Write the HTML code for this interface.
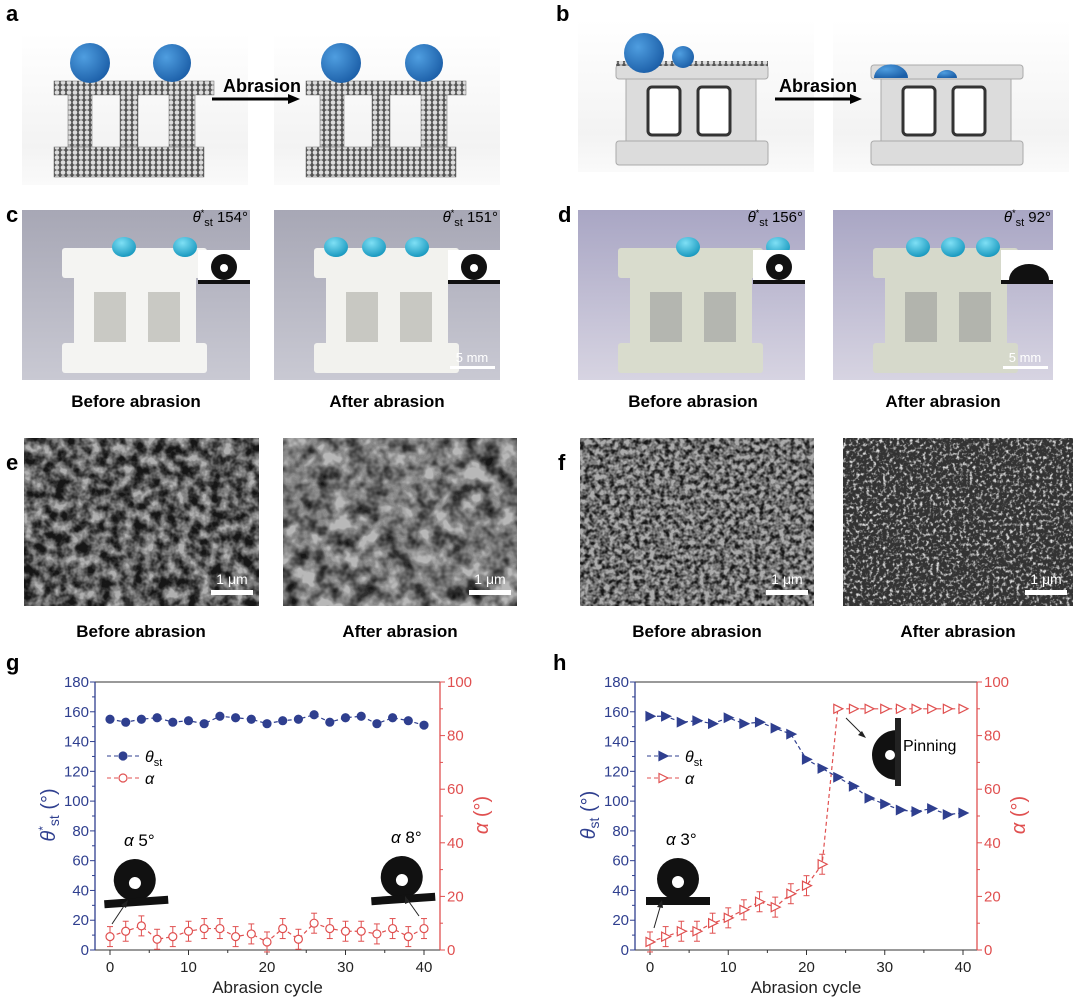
<!DOCTYPE html>
<html><head><meta charset="utf-8"><style>
html,body{margin:0;padding:0;background:#fff}
svg{display:block}
text{font-family:"Liberation Sans",sans-serif}
</style></head><body>
<svg id="s" width="1080" height="999" viewBox="0 0 1080 999" xmlns="http://www.w3.org/2000/svg">
<defs>
<linearGradient id="floor" x1="0" y1="0" x2="0" y2="1"><stop offset="0" stop-color="#fff"/><stop offset="0.75" stop-color="#f3f3f3"/><stop offset="1" stop-color="#fafafa"/></linearGradient>
<radialGradient id="ball" cx="0.35" cy="0.35" r="0.7"><stop offset="0" stop-color="#4f9ee0"/><stop offset="1" stop-color="#1c5fa8"/></radialGradient>
<radialGradient id="drop" cx="0.4" cy="0.3" r="0.8"><stop offset="0" stop-color="#7fe0f5"/><stop offset="1" stop-color="#0b8fb8"/></radialGradient>
<linearGradient id="photoC" x1="0" y1="0" x2="0" y2="1"><stop offset="0" stop-color="#a7a7b5"/><stop offset="1" stop-color="#c9c9d3"/></linearGradient>
<linearGradient id="photoD" x1="0" y1="0" x2="0" y2="1"><stop offset="0" stop-color="#a9a6c4"/><stop offset="1" stop-color="#d7d4e2"/></linearGradient>
<pattern id="dots" width="6" height="5" patternUnits="userSpaceOnUse"><rect width="6" height="5" fill="#555"/><circle cx="3" cy="2.5" r="2.3" fill="#ddd"/></pattern>
<filter id="sem1" x="0" y="0" width="1" height="1"><feTurbulence type="fractalNoise" baseFrequency="0.09" numOctaves="3" seed="3"/><feColorMatrix type="matrix" values="0 0 0 0 0  0 0 0 0 0  0 0 0 0 0  2.2 0 0 0 -0.55"/><feComposite in="SourceGraphic" operator="in"/></filter>
<filter id="sem2" x="0" y="0" width="1" height="1"><feTurbulence type="fractalNoise" baseFrequency="0.06" numOctaves="3" seed="7"/><feColorMatrix type="matrix" values="0 0 0 0 0  0 0 0 0 0  0 0 0 0 0  2.0 0 0 0 -0.6"/><feComposite in="SourceGraphic" operator="in"/></filter>
<filter id="sem3" x="0" y="0" width="1" height="1"><feTurbulence type="fractalNoise" baseFrequency="0.2" numOctaves="2" seed="5"/><feColorMatrix type="matrix" values="0 0 0 0 0  0 0 0 0 0  0 0 0 0 0  2.4 0 0 0 -0.8"/><feComposite in="SourceGraphic" operator="in"/></filter>
<filter id="sem4" x="0" y="0" width="1" height="1"><feTurbulence type="fractalNoise" baseFrequency="0.3" numOctaves="2" seed="9"/><feColorMatrix type="matrix" values="0 0 0 0 1  0 0 0 0 1  0 0 0 0 1  3.5 0 0 0 -1.75"/><feComposite in="SourceGraphic" operator="in"/></filter>
</defs>
<g id="root"></g>
</svg>
<script>
const root=document.getElementById("root");
let h="";
function T(x,y,s,opt){opt=opt||{};h+=`<text x="${x}" y="${y}" font-size="${opt.fs||16}" font-weight="${opt.b?'bold':'normal'}" fill="${opt.c||'#000'}" text-anchor="${opt.a||'start'}" ${opt.st?'font-style="italic"':''}>${s}</text>`;}
[["a",6,21],["b",556,21],["c",6,222],["d",558,222],["e",6,470],["f",558,470],["g",6,670],["h",553,670]].forEach(p=>T(p[1],p[2],p[0],{fs:22,b:1}));
function blockA(x0,y0,balls){
 h+=`<rect x="${x0}" y="${y0}" width="226" height="152" fill="url(#floor)"/>`;
 const bx=x0+32,by=y0+48;
 h+=`<g fill="url(#dots)" stroke="#666" stroke-width="0.5">
 <rect x="${bx}" y="${by}" width="160" height="14"/>
 <rect x="${bx+14}" y="${by+14}" width="24" height="52"/>
 <rect x="${bx+66}" y="${by+14}" width="18" height="52"/>
 <rect x="${bx+115}" y="${by+14}" width="26" height="52"/>
 <rect x="${bx}" y="${by+66}" width="150" height="30"/></g>`;
 balls.forEach(b=>h+=`<circle cx="${x0+b[0]}" cy="${y0+b[1]}" r="${b[2]}" fill="url(#ball)"/>`);
}
blockA(22,33,[[68,30,20],[150,30,19]]);
blockA(274,33,[[67,30,20],[150,30,19]]);
function arrow(x1,x2,y){h+=`<line x1="${x1}" y1="${y}" x2="${x2-8}" y2="${y}" stroke="#000" stroke-width="3"/><polygon points="${x2},${y} ${x2-12},${y-5} ${x2-12},${y+5}" fill="#000"/>`;}
T(262,92,"Abrasion",{fs:18,b:1,a:"middle"});arrow(212,300,99);
function blockB(x0,y0,balls,rough){
 h+=`<rect x="${x0}" y="${y0}" width="236" height="152" fill="url(#floor)"/>`;
 const bx=x0+38,by=y0+45;
 h+=`<g fill="#dcdcdc" stroke="#aaa" stroke-width="1">
 <rect x="${bx}" y="${by}" width="152" height="14" rx="3"/>
 <rect x="${bx+10}" y="${by+14}" width="130" height="62"/>
 <rect x="${bx}" y="${by+76}" width="152" height="24" rx="3"/></g>
 <rect x="${bx+32}" y="${by+22}" width="32" height="48" rx="4" fill="#fff" stroke="#333" stroke-width="3"/>
 <rect x="${bx+82}" y="${by+22}" width="32" height="48" rx="4" fill="#fff" stroke="#333" stroke-width="3"/>`;
 if(rough)h+=`<rect x="${bx}" y="${by-4}" width="152" height="5" fill="url(#dots)"/>`;
 balls.forEach(b=>h+=b[3]?`<path d="M${x0+b[0]-b[2]},${y0+b[1]} a${b[2]},${b[2]*0.8} 0 0 1 ${2*b[2]},0 z" fill="url(#ball)"/>`:`<circle cx="${x0+b[0]}" cy="${y0+b[1]}" r="${b[2]}" fill="url(#ball)"/>`);
}
blockB(578,20,[[66,33,20],[105,37,11]],1);
blockB(833,20,[[58,58,17,1],[114,58,10,1]],0);
T(818,92,"Abrasion",{fs:18,b:1,a:"middle"});arrow(775,862,99);
function photo(x,y,w,ht,grad,col,win,drops,ang,flat,scale){
 h+=`<rect x="${x}" y="${y}" width="${w}" height="${ht}" fill="url(#${grad})"/>`;
 const bx=x+40,by=y+38;
 h+=`<g fill="${col}"><rect x="${bx}" y="${by}" width="145" height="30" rx="3"/><rect x="${bx+12}" y="${by+30}" width="122" height="80"/><rect x="${bx}" y="${by+95}" width="145" height="30" rx="3"/></g>
 <rect x="${bx+32}" y="${by+44}" width="32" height="50" fill="${win}"/><rect x="${bx+86}" y="${by+44}" width="32" height="50" fill="${win}"/>`;
 drops.forEach(d=>h+=`<ellipse cx="${x+d}" cy="${by-1}" rx="12" ry="10" fill="url(#drop)"/>`);
 const ix=x+w-52,iy=y+40;
 h+=`<rect x="${ix}" y="${iy}" width="52" height="32" fill="#fff"/><rect x="${ix}" y="${iy+30}" width="52" height="4" fill="#111"/>`;
 if(flat)h+=`<path d="M${ix+8},${iy+30} a20,16 0 0 1 40,0 z" fill="#111"/>`;else h+=`<circle cx="${ix+26}" cy="${iy+17}" r="13" fill="#111"/><circle cx="${ix+26}" cy="${iy+18}" r="4" fill="#fff"/>`;
 h+=`<text x="${x+w-2}" y="${y+12}" font-size="15" text-anchor="end"><tspan font-style="italic">θ</tspan><tspan font-size="9" dy="-6">*</tspan><tspan font-size="11" dy="10">st</tspan><tspan dy="-4"> ${ang}°</tspan></text>`;
 if(scale)h+=`<rect x="${x+w-50}" y="${y+ht-14}" width="45" height="3" fill="#fff"/><text x="${x+w-28}" y="${y+ht-18}" font-size="13" fill="#fff" text-anchor="middle">5 mm</text>`;
}
photo(22,210,228,170,"photoC","#f4f4f2","#c9c9c4",[102,163],154,0,0);
photo(274,210,226,170,"photoC","#f2f2ee","#c8c8c2",[62,100,143],151,0,1);
photo(578,210,227,170,"photoD","#d9dccd","#b4b6b0",[110,200],156,0,0);
photo(833,210,220,170,"photoD","#d6d9cb","#b2b4ad",[85,120,155],92,1,1);
T(136,407,"Before abrasion",{fs:17,b:1,a:"middle"});T(387,407,"After abrasion",{fs:17,b:1,a:"middle"});
T(693,407,"Before abrasion",{fs:17,b:1,a:"middle"});T(943,407,"After abrasion",{fs:17,b:1,a:"middle"});
function sem(x,w,base,f,fg){h+=`<rect x="${x}" y="438" width="${w}" height="168" fill="${base}"/><rect x="${x}" y="438" width="${w}" height="168" fill="${fg}" filter="url(#${f})"/>`;
 h+=`<rect x="${x+w-48}" y="590" width="42" height="5" fill="#fff"/><text x="${x+w-27}" y="584" font-size="14" fill="#fff" text-anchor="middle">1 μm</text>`;}
sem(24,235,"#b0b0b0","sem1","#141414");sem(283,234,"#b8b8b8","sem2","#141414");sem(580,234,"#ababab","sem3","#141414");sem(843,230,"#333","sem4","#ddd");
T(141,637,"Before abrasion",{fs:17,b:1,a:"middle"});T(400,637,"After abrasion",{fs:17,b:1,a:"middle"});
T(697,637,"Before abrasion",{fs:17,b:1,a:"middle"});T(958,637,"After abrasion",{fs:17,b:1,a:"middle"});
const BL="#2f3f8f",RD="#e05050";
function chart(L,R,x0,x40,th,al,tri,isG){
 const top=682,bot=950;
 const X=c=>x0+(x40-x0)*c/40, Yt=v=>bot-(bot-top)*v/180, Ya=v=>bot-(bot-top)*v/100;
 h+=`<line x1="${L}" y1="${top}" x2="${R}" y2="${top}" stroke="#333"/><line x1="${L}" y1="${bot}" x2="${R}" y2="${bot}" stroke="#333"/>`;
 h+=`<line x1="${L}" y1="${top}" x2="${L}" y2="${bot}" stroke="${BL}" stroke-width="1.3"/><line x1="${R}" y1="${top}" x2="${R}" y2="${bot}" stroke="${RD}" stroke-width="1.3"/>`;
 for(let v=0;v<=180;v+=20){const y=Yt(v);h+=`<line x1="${L-5}" y1="${y}" x2="${L}" y2="${y}" stroke="${BL}"/>`;T(L-6,y+5,v,{fs:15,c:BL,a:"end"});}
 for(let v=10;v<180;v+=20){const y=Yt(v);h+=`<line x1="${L-3}" y1="${y}" x2="${L}" y2="${y}" stroke="${BL}"/>`;}
 for(let v=0;v<=100;v+=20){const y=Ya(v);h+=`<line x1="${R}" y1="${y}" x2="${R+5}" y2="${y}" stroke="${RD}"/>`;T(R+7,y+5,v,{fs:15,c:RD});}
 for(let v=10;v<100;v+=20){const y=Ya(v);h+=`<line x1="${R}" y1="${y}" x2="${R+3}" y2="${y}" stroke="${RD}"/>`;}
 for(let c=0;c<=40;c+=10){const x=X(c);h+=`<line x1="${x}" y1="${bot}" x2="${x}" y2="${bot+5}" stroke="#333"/>`;T(x,bot+22,c,{fs:15,a:"middle",c:"#222"});}
 for(let c=5;c<40;c+=10){const x=X(c);h+=`<line x1="${x}" y1="${bot}" x2="${x}" y2="${bot+3}" stroke="#333"/>`;}
 T((L+R)/2,bot+43,"Abrasion cycle",{fs:17,a:"middle",c:"#222"});
 let pt=th.map((v,i)=>X(2*i)+","+Yt(v)).join(" "),pa=al.map((v,i)=>X(2*i)+","+Ya(v)).join(" ");
 h+=`<polyline points="${pa}" fill="none" stroke="${RD}" stroke-dasharray="4,3" stroke-width="1.2"/>`;
 h+=`<polyline points="${pt}" fill="none" stroke="${BL}" stroke-dasharray="4,3" stroke-width="1.2"/>`;
 const mk=(x,y,col,fill)=>tri?`<polygon points="${x-4},${y-4.5} ${x+5},${y} ${x-4},${y+4.5}" fill="${fill?col:'#fff'}" stroke="${col}" stroke-width="1.2"/>`:`<circle cx="${x}" cy="${y}" r="4" fill="${fill?col:'#fff'}" stroke="${col}" stroke-width="1.2"/>`;
 al.forEach((v,i)=>{const x=X(2*i),y=Ya(v);if(v<50){h+=`<line x1="${x}" y1="${y-10}" x2="${x}" y2="${y+10}" stroke="${RD}"/><line x1="${x-3}" y1="${y-10}" x2="${x+3}" y2="${y-10}" stroke="${RD}"/><line x1="${x-3}" y1="${y+10}" x2="${x+3}" y2="${y+10}" stroke="${RD}"/>`;}h+=mk(x,y,RD,0);});
 th.forEach((v,i)=>{const x=X(2*i),y=Yt(v);h+=mk(x,y,BL,1);});
 const lx=L+12;h+=`<line x1="${lx}" y1="756" x2="${lx+32}" y2="756" stroke="${BL}" stroke-dasharray="4,3"/>`+mk(lx+16,756,BL,1);
 h+=`<line x1="${lx}" y1="778" x2="${lx+32}" y2="778" stroke="${RD}" stroke-dasharray="4,3"/>`+mk(lx+16,778,RD,0);
 h+=`<text x="${lx+38}" y="762" font-size="16"><tspan font-style="italic">θ</tspan><tspan font-size="11" dy="4">st</tspan></text>`;
 T(lx+38,784,"α",{fs:16,st:1});
 h+=`<text transform="translate(${L-40},815) rotate(-90)" font-size="20" fill="${BL}" text-anchor="middle"><tspan font-style="italic">θ</tspan>${isG?'<tspan font-size="12" dy="-8">*</tspan><tspan font-size="14" dy="12">st</tspan>':'<tspan font-size="14" dy="4">st</tspan>'}<tspan dy="-4"> (°)</tspan></text>`;
 h+=`<text transform="translate(${R+48},815) rotate(-90)" font-size="20" fill="${RD}" text-anchor="middle"><tspan font-style="italic">α</tspan> (°)</text>`;
}
chart(95,440,110,424,[155,153,155,156,153,154,152,157,156,155,152,154,155,158,153,156,157,152,156,154,151],[5,7,9,4,5,7,8,8,5,6,3,8,4,10,8,7,7,6,8,5,8],0,1);
chart(635,977,650,963,[157,157,153,154,152,156,152,153,149,145,128,122,116,110,102,98,94,93,95,91,92],[3,5,7,7,10,12,15,18,16,21,24,32,90,90,90,90,90,90,90,90,90],1,0);
function dropInset(x,y,lbl,tilt){
 h+=`<g transform="rotate(${tilt},${x+30},${y+40})"><circle cx="${x+30}" cy="${y+22}" r="21" fill="#111"/><circle cx="${x+30}" cy="${y+25}" r="6" fill="#fff"/><rect x="${x-2}" y="${y+40}" width="64" height="8" fill="#111"/></g>`;
 h+=`<text x="${x+18}" y="${y-12}" font-size="17"><tspan font-style="italic">α</tspan>  ${lbl}</text>`;
}
dropInset(106,858,"5°",-4);h+=`<line x1="112" y1="924" x2="126" y2="903" stroke="#222"/><polygon points="128,900 121,905 126,908" fill="#222"/>`;
dropInset(373,855,"8°",-4);h+=`<line x1="419" y1="916" x2="407" y2="899" stroke="#222"/><polygon points="405,896 405,904 410,902" fill="#222"/>`;
dropInset(648,857,"3°",0);h+=`<line x1="654" y1="928" x2="661" y2="904" stroke="#222"/><polygon points="662,900 657,907 663,908" fill="#222"/>`;
h+=`<path d="M897,730 a24,24 0 0 0 0,50 z" fill="#111"/><circle cx="890" cy="755" r="5" fill="#fff"/><rect x="895" y="718" width="6" height="68" fill="#222"/>`;
T(903,751,"Pinning",{fs:16});
h+=`<line x1="846" y1="718" x2="863" y2="735" stroke="#222"/><polygon points="866,738 858,735 862,731" fill="#222"/>`;
root.innerHTML=h;
</script>
</body></html>
